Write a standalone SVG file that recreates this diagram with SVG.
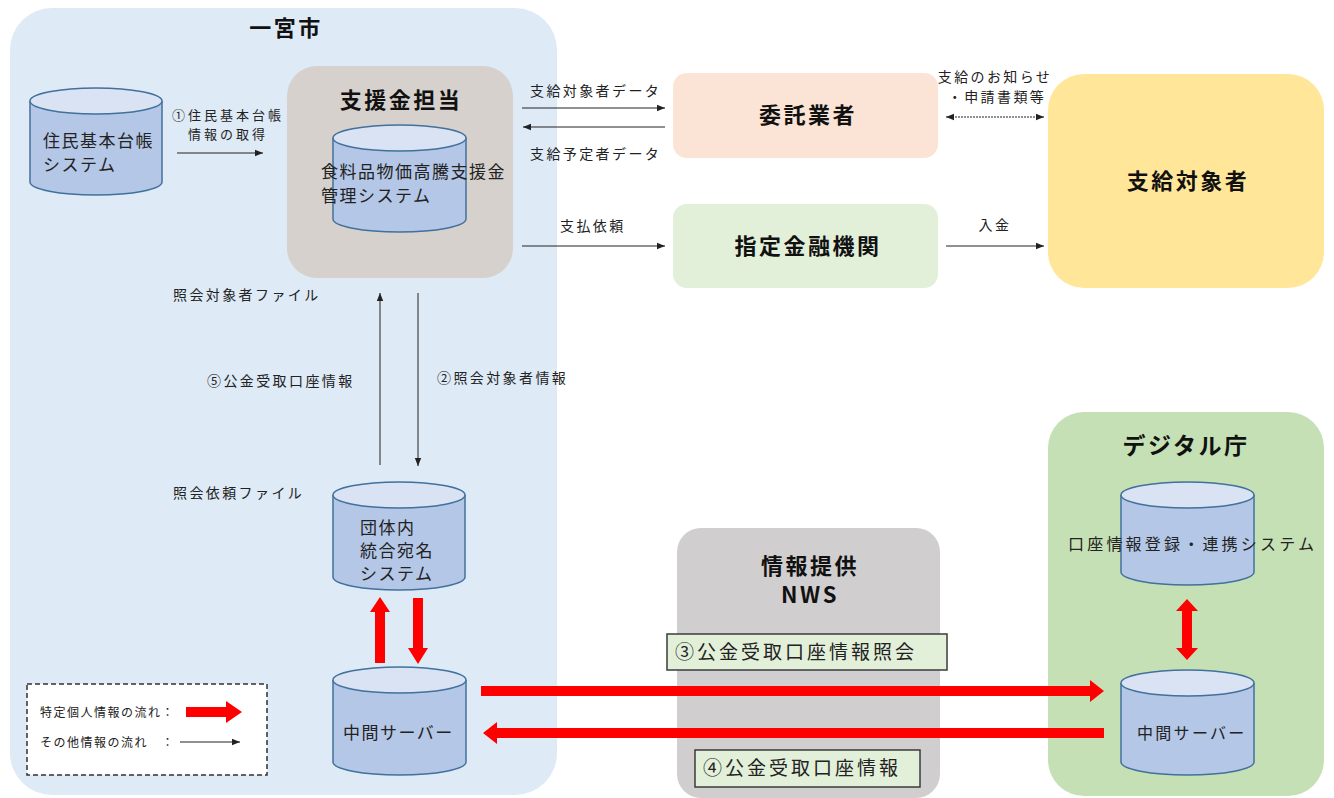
<svg xmlns="http://www.w3.org/2000/svg" width="1334" height="798" viewBox="0 0 1334 798">
<style>
text{font-family:"Noto Sans CJK JP","Noto Sans",sans-serif;fill:#222}
.t{font-size:14px;letter-spacing:2.4px}
.m{font-size:17px;letter-spacing:1.5px}
.b{font-size:22px;font-weight:bold;fill:#111;letter-spacing:2.5px}
.g{font-size:19px;letter-spacing:3px}
.cyl{fill:#b4c7e7;stroke:#41719c;stroke-width:1.5}
.cyt{fill:#dae3f3;stroke:#41719c;stroke-width:1.5}
.ln{stroke:#222;stroke-width:1;fill:none}
.red{fill:#ff0000}
</style>
<defs>
<marker id="ah" viewBox="0 0 10 10" refX="10" refY="5" markerWidth="8" markerHeight="8" orient="auto-start-reverse" markerUnits="userSpaceOnUse">
<path d="M0,1 L10,5 L0,9 z" fill="#222"/>
</marker>
</defs>
<rect width="1334" height="798" fill="#fff"/>

<g id="ichinomiya">
<rect x="10" y="8" width="547" height="787" rx="42" fill="#deeaf6"/>
<text class="b" x="286" y="36" text-anchor="middle">一宮市</text>
</g>

<g id="shienkin">
<rect x="287" y="66" width="226" height="212" rx="30" fill="#d6d1cd"/>
<text class="b" x="401" y="108" text-anchor="middle">支援金担当</text>
</g>

<g id="kanri-system">
<path class="cyl" d="M333,138 L333,219 A66.5,13 0 0 0 466,219 L466,138"/>
<ellipse class="cyt" cx="399.5" cy="138" rx="66.5" ry="13"/>
<text class="m" x="321" y="178">食料品物価高騰支援金</text>
<text class="m" x="321" y="202">管理システム</text>
</g>

<g id="juki">
<path class="cyl" d="M30,101 L30,182 A66,13 0 0 0 162,182 L162,101"/>
<ellipse class="cyt" cx="96" cy="101" rx="66" ry="13"/>
<text class="m" x="43" y="147">住民基本台帳</text>
<text class="m" x="43" y="171">システム</text>
</g>

<g id="itaku">
<rect x="673" y="73" width="265" height="85" rx="14" fill="#fbe4d5"/>
<text class="b" x="808" y="123" text-anchor="middle">委託業者</text>
</g>

<g id="kinyu">
<rect x="673" y="204" width="265" height="84" rx="14" fill="#e2efd9"/>
<text class="b" x="808" y="254" text-anchor="middle">指定金融機関</text>
</g>

<g id="taishosha">
<rect x="1048" y="74" width="276" height="214" rx="36" fill="#ffe699"/>
<text class="b" x="1188" y="189" text-anchor="middle">支給対象者</text>
</g>

<g id="atena">
<path class="cyl" d="M333,495 L333,577 A66,13 0 0 0 465,577 L465,495"/>
<ellipse class="cyt" cx="399" cy="495" rx="66" ry="13"/>
<text class="m" x="360" y="534">団体内</text>
<text class="m" x="360" y="557">統合宛名</text>
<text class="m" x="360" y="580">システム</text>
</g>

<g id="chukan-left">
<path class="cyl" d="M333,680 L333,762 A66.5,13 0 0 0 466,762 L466,680"/>
<ellipse class="cyt" cx="399.5" cy="680" rx="66.5" ry="13"/>
<text class="m" x="343" y="739">中間サーバー</text>
</g>

<g id="legend">
<rect x="27" y="684" width="240" height="91" fill="#fff" stroke="#333" stroke-width="1.5" stroke-dasharray="5,3"/>
<text x="40" y="717" style="font-size:12px;letter-spacing:1.5px">特定個人情報の流れ：</text>
<polygon class="red" points="186,707 226,707 226,701 242,712 226,723 226,717 186,717"/>
<text x="40" y="747" style="font-size:12px;letter-spacing:1.5px">その他情報の流れ　：</text>
<line class="ln" x1="180" y1="742" x2="240" y2="742" marker-end="url(#ah)"/>
</g>

<g id="nws">
<rect x="677" y="528" width="263" height="270" rx="24" fill="#d0cece"/>
<text class="b" x="810" y="574" text-anchor="middle">情報提供</text>
<text class="b" x="810" y="603" text-anchor="middle">NWS</text>
</g>

<g id="digital">
<rect x="1048" y="412" width="276" height="384" rx="36" fill="#c5e0b4"/>
<text class="b" x="1186" y="454" text-anchor="middle" style="font-size:23px">デジタル庁</text>
</g>

<g id="koza-system">
<path class="cyl" d="M1121,495 L1121,572 A66.5,13 0 0 0 1254,572 L1254,495"/>
<ellipse class="cyt" cx="1187.5" cy="495" rx="66.5" ry="13"/>
<text x="1068" y="550" style="font-size:16px;letter-spacing:3.2px">口座情報登録・連携システム</text>
</g>

<g id="chukan-right">
<path class="cyl" d="M1121,683 L1121,762 A66.5,13 0 0 0 1254,762 L1254,683"/>
<ellipse class="cyt" cx="1187.5" cy="683" rx="66.5" ry="13"/>
<text x="1137" y="739" style="font-size:16px;letter-spacing:2.3px">中間サーバー</text>
</g>

<g id="connectors">
<line class="ln" x1="177" y1="153" x2="263" y2="153" marker-end="url(#ah)"/>
<line class="ln" x1="522" y1="108" x2="665" y2="108" marker-end="url(#ah)"/>
<line class="ln" x1="665" y1="127" x2="523" y2="127" marker-end="url(#ah)"/>
<line class="ln" x1="522" y1="246" x2="665" y2="246" marker-end="url(#ah)"/>
<line class="ln" x1="946" y1="117" x2="1044" y2="117" stroke-dasharray="2,1" marker-start="url(#ah)" marker-end="url(#ah)"/>
<line class="ln" x1="946" y1="246" x2="1044" y2="246" marker-end="url(#ah)"/>
<line class="ln" x1="380" y1="465" x2="380" y2="293" marker-end="url(#ah)"/>
<line class="ln" x1="418" y1="293" x2="418" y2="466" marker-end="url(#ah)"/>
<polygon class="red" points="375,663 375,612 370,612 380,597 390,612 385,612 385,663"/>
<polygon class="red" points="413,598 423,598 423,648 428,648 418,664 408,648 413,648"/>
<polygon class="red" points="481,686 1090,686 1090,680 1104,691 1090,702 1090,696 481,696"/>
<polygon class="red" points="1104,728 497,728 497,722 483,733 497,744 497,738 1104,738"/>
<polygon class="red" points="1187,599 1198,611 1192,611 1192,648 1198,648 1187,660 1176,648 1182,648 1182,611 1176,611"/>
</g>

<g id="labels">
<text x="172" y="120" style="font-size:13px;letter-spacing:3px">①住民基本台帳</text>
<text x="188" y="139" style="font-size:13px;letter-spacing:3px">情報の取得</text>
<text class="t" x="530" y="96">支給対象者データ</text>
<text class="t" x="530" y="159">支給予定者データ</text>
<text class="t" x="560" y="231">支払依頼</text>
<text class="t" x="995" y="82" text-anchor="middle">支給のお知らせ</text>
<text class="t" x="997" y="102" text-anchor="middle">・申請書類等</text>
<text class="t" x="995" y="230" text-anchor="middle">入金</text>
<text class="t" x="173" y="300">照会対象者ファイル</text>
<text class="t" x="207" y="386">⑤公金受取口座情報</text>
<text class="t" x="437" y="383">②照会対象者情報</text>
<text class="t" x="173" y="498">照会依頼ファイル</text>
</g>

<g id="label-3">
<rect x="667" y="634" width="280" height="36" fill="#e2efd9" stroke="#3b3b3b" stroke-width="1.5"/>
<text class="g" x="675" y="659">③公金受取口座情報照会</text>
</g>
<g id="label-4">
<rect x="695" y="750" width="225" height="37" fill="#e2efd9" stroke="#3b3b3b" stroke-width="1.5"/>
<text class="g" x="703" y="775">④公金受取口座情報</text>
</g>
</svg>
